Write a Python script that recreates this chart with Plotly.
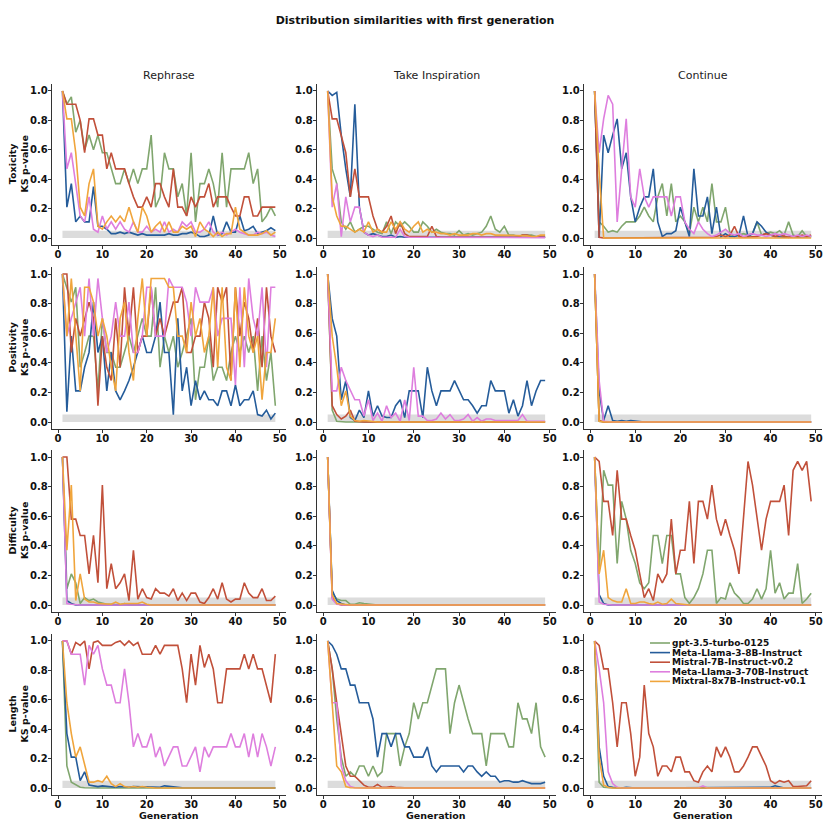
import plotly.graph_objects as go
from plotly.subplots import make_subplots

# ---------------- data ----------------
GENERATIONS = list(range(1, 50))
MODELS = ["gpt-3.5-turbo-0125", "Meta-Llama-3-8B-Instruct", "Mistral-7B-Instruct-v0.2",
          "Meta-Llama-3-70B-Instruct", "Mixtral-8x7B-Instruct-v0.1"]
COLORS = ["#80a66e", "#255c9a", "#c1503a", "#de7ede", "#f0a53c"]
TASKS = ["Rephrase", "Take Inspiration", "Continue"]
METRICS = ["Toxicity", "Positivity", "Difficulty", "Length"]
X_TICKS = [0, 10, 20, 30, 40, 50]
Y_TICKS = [0.0, 0.2, 0.4, 0.6, 0.8, 1.0]
SIGNIFICANCE = 0.05
TITLE = "Distribution similarities with first generation"

# ---- Toxicity ----
TOX_REPH_GPT = [1.0, 0.91, 0.96, 0.72, 0.80, 0.60, 0.70, 0.60, 0.70, 0.58,
                0.58, 0.47, 0.37, 0.37, 0.47, 0.37, 0.47, 0.37, 0.47, 0.47,
                0.70, 0.21, 0.28, 0.58, 0.47, 0.47, 0.28, 0.37, 0.15, 0.58,
                0.11, 0.37, 0.37, 0.47, 0.37, 0.21, 0.58, 0.21, 0.47, 0.47,
                0.47, 0.47, 0.58, 0.37, 0.47, 0.11, 0.15, 0.21, 0.15]
TOX_REPH_L8 = [1.0, 0.21, 0.37, 0.11, 0.15, 0.11, 0.11, 0.35, 0.08, 0.08,
               0.06, 0.03, 0.03, 0.04, 0.03, 0.04, 0.03, 0.02, 0.03, 0.02,
               0.02, 0.02, 0.02, 0.02, 0.03, 0.02, 0.02, 0.03, 0.03, 0.04,
               0.03, 0.01, 0.01, 0.02, 0.15, 0.02, 0.03, 0.11, 0.04, 0.04,
               0.15, 0.05, 0.06, 0.08, 0.03, 0.04, 0.05, 0.07, 0.05]
TOX_REPH_MIS = [1.0, 0.91, 0.91, 0.91, 0.80, 0.58, 0.81, 0.81, 0.70, 0.70,
                0.47, 0.58, 0.47, 0.47, 0.47, 0.37, 0.28, 0.21, 0.21, 0.28,
                0.21, 0.37, 0.37, 0.28, 0.21, 0.47, 0.21, 0.21, 0.15, 0.28,
                0.21, 0.28, 0.28, 0.37, 0.21, 0.28, 0.28, 0.28, 0.21, 0.15,
                0.15, 0.28, 0.28, 0.15, 0.15, 0.21, 0.21, 0.21, 0.21]
TOX_REPH_L70 = [1.0, 0.47, 0.58, 0.37, 0.15, 0.11, 0.28, 0.06, 0.04, 0.15,
                0.06, 0.11, 0.06, 0.11, 0.06, 0.04, 0.11, 0.04, 0.04, 0.08,
                0.04, 0.06, 0.04, 0.11, 0.04, 0.06, 0.04, 0.11, 0.08, 0.11,
                0.04, 0.04, 0.06, 0.11, 0.04, 0.02, 0.04, 0.02, 0.04, 0.06,
                0.04, 0.03, 0.02, 0.02, 0.04, 0.03, 0.04, 0.02, 0.01]
TOX_REPH_MIX = [1.0, 0.81, 0.81, 0.58, 0.21, 0.15, 0.37, 0.47, 0.08, 0.06,
                0.11, 0.15, 0.11, 0.15, 0.11, 0.21, 0.11, 0.04, 0.21, 0.15,
                0.04, 0.08, 0.11, 0.04, 0.11, 0.04, 0.04, 0.08, 0.06, 0.08,
                0.01, 0.11, 0.06, 0.04, 0.01, 0.04, 0.01, 0.03, 0.03, 0.21,
                0.06, 0.04, 0.02, 0.02, 0.02, 0.03, 0.05, 0.02, 0.04]

TOX_INSP_GPT = [1.0, 0.47, 0.37, 0.11, 0.06, 0.11, 0.04, 0.06, 0.08, 0.08,
                0.06, 0.04, 0.03, 0.11, 0.03, 0.11, 0.08, 0.11, 0.08, 0.04,
                0.04, 0.11, 0.08, 0.04, 0.06, 0.04, 0.03, 0.03, 0.02, 0.05,
                0.02, 0.03, 0.02, 0.03, 0.04, 0.08, 0.15, 0.06, 0.04, 0.08,
                0.02, 0.02, 0.01, 0.02, 0.02, 0.02, 0.01, 0.01, 0.005]
TOX_INSP_L8 = [1.0, 0.97, 0.99, 0.70, 0.47, 0.28, 0.91, 0.21, 0.04, 0.02,
               0.03, 0.02, 0.01, 0.01, 0.02, 0.005, 0.01, 0.005, 0.005, 0.005,
               0.01, 0.005, 0.005, 0.005, 0.005, 0.005, 0.005, 0.005, 0.005, 0.005,
               0.005, 0.005, 0.005, 0.005, 0.005, 0.005, 0.005, 0.005, 0.005, 0.005,
               0.005, 0.005, 0.005, 0.005, 0.01, 0.005, 0.005, 0.005, 0.005]
TOX_INSP_MIS = [1.0, 0.81, 0.81, 0.70, 0.58, 0.28, 0.47, 0.28, 0.28, 0.28,
                0.15, 0.06, 0.04, 0.08, 0.15, 0.03, 0.11, 0.03, 0.01, 0.01,
                0.005, 0.01, 0.01, 0.08, 0.01, 0.005, 0.005, 0.01, 0.005, 0.005,
                0.005, 0.005, 0.005, 0.005, 0.005, 0.005, 0.005, 0.005, 0.005, 0.005,
                0.005, 0.005, 0.005, 0.02, 0.02, 0.01, 0.01, 0.005, 0.005]
TOX_INSP_L70 = [1.0, 0.21, 0.37, 0.01, 0.28, 0.11, 0.21, 0.21, 0.04, 0.02,
                0.01, 0.02, 0.005, 0.005, 0.01, 0.005, 0.06, 0.01, 0.005, 0.005,
                0.003, 0.003, 0.003, 0.003, 0.003, 0.003, 0.003, 0.003, 0.003, 0.003,
                0.003, 0.003, 0.003, 0.003, 0.003, 0.003, 0.003, 0.003, 0.003, 0.003,
                0.003, 0.003, 0.003, 0.003, 0.003, 0.003, 0.003, 0.003, 0.003]
TOX_INSP_MIX = [1.0, 0.28, 0.15, 0.08, 0.08, 0.06, 0.04, 0.06, 0.04, 0.11,
                0.04, 0.06, 0.04, 0.04, 0.11, 0.06, 0.11, 0.06, 0.04, 0.08,
                0.11, 0.04, 0.06, 0.04, 0.04, 0.03, 0.03, 0.02, 0.03, 0.02,
                0.02, 0.02, 0.03, 0.03, 0.02, 0.03, 0.03, 0.02, 0.02, 0.02,
                0.02, 0.02, 0.02, 0.015, 0.015, 0.01, 0.01, 0.02, 0.02]

TOX_CONT_GPT = [1.0, 0.11, 0.08, 0.04, 0.05, 0.04, 0.08, 0.11, 0.11, 0.11,
                0.15, 0.21, 0.15, 0.11, 0.28, 0.37, 0.15, 0.37, 0.11, 0.15,
                0.11, 0.03, 0.21, 0.11, 0.21, 0.11, 0.37, 0.11, 0.11, 0.21,
                0.03, 0.01, 0.02, 0.03, 0.02, 0.03, 0.11, 0.02, 0.03, 0.04,
                0.03, 0.05, 0.02, 0.11, 0.02, 0.01, 0.05, 0.01, 0.01]
TOX_CONT_L8 = [1.0, 0.0, 0.70, 0.58, 0.70, 0.81, 0.47, 0.58, 0.28, 0.11,
               0.21, 0.28, 0.28, 0.47, 0.11, 0.01, 0.03, 0.03, 0.05, 0.21,
               0.11, 0.01, 0.47, 0.15, 0.15, 0.28, 0.03, 0.21, 0.01, 0.03,
               0.01, 0.01, 0.02, 0.15, 0.01, 0.03, 0.11, 0.08, 0.04, 0.02,
               0.01, 0.005, 0.005, 0.005, 0.01, 0.005, 0.005, 0.005, 0.01]
TOX_CONT_MIS = [1.0, 0.005, 0, 0, 0, 0, 0, 0, 0, 0,
                0, 0, 0, 0, 0, 0, 0, 0, 0, 0,
                0, 0, 0, 0, 0, 0, 0.005, 0.01, 0.02, 0.01,
                0.02, 0.08, 0.01, 0.005, 0.005, 0.005, 0.01, 0.02, 0.03, 0.02,
                0.01, 0.02, 0.01, 0.005, 0.01, 0.01, 0.02, 0.01, 0.02]
TOX_CONT_L70 = [1.0, 0.58, 0.81, 0.97, 0.91, 0.11, 0.47, 0.81, 0.28, 0.21,
                0.47, 0.28, 0.21, 0.28, 0.28, 0.28, 0.28, 0.15, 0.28, 0.28,
                0.11, 0.06, 0.03, 0.11, 0.06, 0.03, 0.01, 0.02, 0.04, 0.06,
                0.03, 0.02, 0.03, 0.01, 0.02, 0.03, 0.02, 0.02, 0.01, 0.02,
                0.03, 0.02, 0.03, 0.02, 0.01, 0.02, 0.01, 0.02, 0.01]
TOX_CONT_MIX = [1.0, 0.45, 0, 0, 0, 0, 0, 0, 0, 0,
                0, 0, 0, 0, 0, 0, 0, 0, 0, 0,
                0, 0, 0, 0, 0, 0, 0, 0, 0, 0,
                0, 0, 0, 0, 0, 0, 0, 0, 0, 0,
                0, 0, 0, 0, 0, 0, 0, 0, 0]

# ---- Positivity ----
POS_REPH_GPT = [1.0, 0.91, 0.81, 0.91, 0.37, 0.47, 0.58, 0.58, 0.21, 0.70,
                0.47, 0.47, 0.37, 0.37, 0.47, 0.58, 0.47, 0.58, 0.70, 0.58,
                0.58, 0.91, 0.37, 0.58, 0.47, 0.58, 0.37, 0.47, 0.58, 0.70,
                0.15, 0.37, 0.37, 0.58, 0.28, 0.37, 0.37, 0.28, 0.47, 0.58,
                0.47, 0.58, 0.47, 0.58, 0.21, 0.58, 0.28, 0.47, 0.11]
POS_REPH_L8 = [1.0, 0.07, 0.58, 0.21, 0.21, 0.37, 0.47, 0.81, 0.47, 0.58,
               0.21, 0.47, 0.21, 0.15, 0.21, 0.28, 0.37, 0.47, 0.58, 0.47,
               0.47, 0.58, 0.81, 0.47, 0.47, 0.05, 0.70, 0.21, 0.37, 0.11,
               0.28, 0.15, 0.21, 0.15, 0.15, 0.11, 0.21, 0.21, 0.11, 0.25,
               0.11, 0.15, 0.15, 0.21, 0.05, 0.04, 0.08, 0.02, 0.06]
POS_REPH_MIS = [1.0, 1.0, 0.47, 0.70, 0.58, 0.70, 0.81, 0.70, 0.11, 0.58,
                0.37, 0.28, 0.70, 0.37, 0.91, 0.58, 0.91, 0.47, 0.58, 0.58,
                0.91, 0.58, 0.70, 0.58, 0.70, 0.81, 0.81, 0.91, 0.47, 0.47,
                0.58, 0.58, 0.81, 0.70, 0.37, 0.91, 0.81, 0.91, 0.28, 0.91,
                0.58, 0.81, 0.70, 0.47, 0.70, 0.37, 0.91, 0.58, 0.47]
POS_REPH_L70 = [1.0, 0.58, 0.70, 0.81, 0.91, 0.58, 0.97, 0.58, 0.97, 0.70,
                0.47, 0.58, 0.81, 0.58, 0.58, 0.81, 0.47, 0.47, 0.58, 0.91,
                0.91, 0.58, 0.58, 0.58, 0.97, 0.91, 0.91, 0.91, 0.81, 0.58,
                0.91, 0.81, 0.81, 0.81, 0.91, 0.58, 0.70, 0.70, 0.70, 0.25,
                0.91, 0.37, 0.97, 0.70, 0.58, 0.91, 0.37, 0.91, 0.91]
POS_REPH_MIX = [1.0, 0.58, 0.97, 0.58, 0.21, 0.91, 0.91, 0.81, 0.58, 0.70,
                0.58, 0.37, 0.21, 0.70, 0.81, 0.47, 0.28, 0.70, 0.97, 0.58,
                0.97, 0.97, 0.97, 0.97, 0.91, 0.91, 0.58, 0.58, 0.47, 0.81,
                0.58, 0.70, 0.47, 0.58, 0.91, 0.37, 0.91, 0.37, 0.28, 0.91,
                0.37, 0.91, 0.58, 0.47, 0.58, 0.15, 0.47, 0.47, 0.70]

POS_INSP_GPT = [1.0, 0.08, 0.005, 0, 0, 0, 0, 0, 0, 0,
                0, 0, 0, 0, 0, 0, 0, 0, 0, 0,
                0, 0, 0, 0, 0, 0, 0, 0, 0, 0,
                0, 0, 0, 0, 0, 0, 0, 0, 0, 0,
                0, 0, 0, 0, 0, 0, 0, 0, 0]
POS_INSP_L8 = [1.0, 0.70, 0.58, 0.15, 0.28, 0.03, 0.01, 0.08, 0.03, 0.21,
               0.04, 0.11, 0.04, 0.03, 0.03, 0.11, 0.15, 0.03, 0.21, 0.21,
               0.21, 0.03, 0.37, 0.21, 0.11, 0.21, 0.21, 0.21, 0.28, 0.21,
               0.15, 0.15, 0.11, 0.06, 0.11, 0.11, 0.28, 0.21, 0.21, 0.21,
               0.06, 0.15, 0.04, 0.11, 0.28, 0.11, 0.21, 0.28, 0.28]
POS_INSP_MIS = [1.0, 0.11, 0.05, 0.02, 0.04, 0.08, 0.005, 0, 0, 0,
                0, 0, 0, 0, 0, 0, 0, 0, 0, 0,
                0, 0, 0, 0, 0, 0, 0, 0, 0, 0,
                0, 0, 0, 0, 0, 0, 0, 0, 0, 0,
                0, 0, 0, 0, 0, 0, 0, 0, 0]
POS_INSP_L70 = [1.0, 0.21, 0.21, 0.37, 0.28, 0.21, 0.15, 0.15, 0.04, 0.15,
                0.01, 0.06, 0.005, 0.11, 0.03, 0.06, 0.005, 0.15, 0.01, 0.37,
                0.04, 0.04, 0.01, 0.01, 0.02, 0.06, 0.02, 0.05, 0.01, 0.01,
                0.02, 0.05, 0.005, 0.03, 0.005, 0.02, 0.02, 0.01, 0.01, 0.01,
                0.005, 0.01, 0.01, 0.05, 0.005, 0.005, 0.005, 0.005, 0.005]
POS_INSP_MIX = [1.0, 0.58, 0.37, 0.11, 0.21, 0.04, 0.01, 0.005, 0.01, 0.005,
                0, 0, 0, 0, 0, 0, 0, 0, 0, 0,
                0, 0, 0, 0, 0, 0, 0, 0, 0, 0,
                0, 0, 0, 0, 0, 0, 0, 0, 0, 0,
                0, 0, 0, 0, 0, 0, 0, 0, 0]

POS_CONT_GPT = [1.0, 0.005, 0, 0, 0, 0, 0, 0, 0, 0,
                0, 0, 0, 0, 0, 0, 0, 0, 0, 0,
                0, 0, 0, 0, 0, 0, 0, 0, 0, 0,
                0, 0, 0, 0, 0, 0, 0, 0, 0, 0,
                0, 0, 0, 0, 0, 0, 0, 0, 0]
POS_CONT_L8 = [1.0, 0.21, 0.01, 0.11, 0.01, 0.005, 0.01, 0.005, 0.01, 0.005,
               0, 0, 0, 0, 0, 0, 0, 0, 0, 0,
               0, 0, 0, 0, 0, 0, 0, 0, 0, 0,
               0, 0, 0, 0, 0, 0, 0, 0, 0, 0,
               0, 0, 0, 0, 0, 0, 0, 0, 0]
POS_CONT_MIS = [1.0, 0.01, 0, 0, 0, 0, 0, 0, 0, 0,
                0, 0, 0, 0, 0, 0, 0, 0, 0, 0,
                0, 0, 0, 0, 0, 0, 0, 0, 0, 0,
                0, 0, 0, 0, 0, 0, 0, 0, 0, 0,
                0, 0, 0, 0, 0, 0, 0, 0, 0]
POS_CONT_L70 = [1.0, 0.28, 0.005, 0, 0, 0, 0, 0, 0, 0,
                0, 0, 0, 0, 0, 0, 0, 0, 0, 0,
                0, 0, 0, 0, 0, 0, 0, 0, 0, 0,
                0, 0, 0, 0, 0, 0, 0, 0, 0, 0,
                0, 0, 0, 0, 0, 0, 0, 0, 0]
POS_CONT_MIX = [1.0, 0.005, 0, 0, 0, 0, 0, 0, 0, 0,
                0, 0, 0, 0, 0, 0, 0, 0, 0, 0,
                0, 0, 0, 0, 0, 0, 0, 0, 0, 0,
                0, 0, 0, 0, 0, 0, 0, 0, 0, 0,
                0, 0, 0, 0, 0, 0, 0, 0, 0]

# ---- Difficulty ----
DIF_REPH_GPT = [1.0, 0.11, 0.21, 0.15, 0.01, 0.05, 0.03, 0.04, 0.02, 0.01,
                0.005, 0.005, 0.002, 0.002, 0.01, 0.002, 0.002, 0.002, 0.002, 0.002,
                0, 0, 0, 0, 0, 0, 0, 0, 0, 0,
                0, 0, 0, 0, 0, 0, 0, 0, 0, 0,
                0, 0, 0, 0, 0, 0, 0, 0, 0]
DIF_REPH_L8 = [1.0, 0.03, 0.01, 0, 0, 0, 0, 0, 0, 0,
               0, 0, 0, 0, 0, 0, 0, 0, 0, 0,
               0, 0, 0, 0, 0, 0, 0, 0, 0, 0,
               0, 0, 0, 0, 0, 0, 0, 0, 0, 0,
               0, 0, 0, 0, 0, 0, 0, 0, 0]
DIF_REPH_MIS = [1.0, 1.0, 0.58, 0.58, 0.47, 0.47, 0.21, 0.47, 0.15, 0.81,
                0.11, 0.28, 0.11, 0.15, 0.21, 0.03, 0.37, 0.04, 0.11, 0.05,
                0.04, 0.11, 0.08, 0.08, 0.06, 0.11, 0.03, 0.08, 0.03, 0.08,
                0.08, 0.02, 0.01, 0.05, 0.11, 0.04, 0.15, 0.04, 0.02, 0.04,
                0.04, 0.15, 0.08, 0.05, 0.05, 0.11, 0.03, 0.03, 0.06]
DIF_REPH_L70 = [1.0, 0.01, 0.005, 0, 0, 0, 0, 0, 0, 0,
                0, 0, 0, 0, 0, 0, 0, 0, 0, 0,
                0, 0, 0, 0, 0, 0, 0, 0, 0, 0,
                0, 0, 0, 0, 0, 0, 0, 0, 0, 0,
                0, 0, 0, 0, 0, 0, 0, 0, 0]
DIF_REPH_MIX = [1.0, 0.37, 0.81, 0.03, 0.21, 0.04, 0.02, 0.02, 0.01, 0.01,
                0.005, 0.005, 0.02, 0.005, 0.01, 0.01, 0.01, 0.01, 0.02, 0.005,
                0, 0, 0, 0, 0, 0, 0, 0, 0, 0,
                0, 0, 0, 0, 0, 0, 0, 0, 0, 0,
                0, 0, 0, 0, 0, 0, 0, 0, 0]

DIF_INSP_GPT = [1.0, 0.08, 0.04, 0.03, 0.03, 0.005, 0.005, 0.015, 0.01, 0.005,
                0.002, 0, 0, 0, 0, 0, 0, 0, 0, 0,
                0, 0, 0, 0, 0, 0, 0, 0, 0, 0,
                0, 0, 0, 0, 0, 0, 0, 0, 0, 0,
                0, 0, 0, 0, 0, 0, 0, 0, 0]
DIF_INSP_L8 = [1.0, 0.10, 0.03, 0.01, 0, 0, 0, 0, 0, 0,
               0, 0, 0, 0, 0, 0, 0, 0, 0, 0,
               0, 0, 0, 0, 0, 0, 0, 0, 0, 0,
               0, 0, 0, 0, 0, 0, 0, 0, 0, 0,
               0, 0, 0, 0, 0, 0, 0, 0, 0]
DIF_INSP_MIS = [1.0, 0.05, 0.01, 0, 0, 0, 0, 0, 0, 0,
                0, 0, 0, 0, 0, 0, 0, 0, 0, 0,
                0, 0, 0, 0, 0, 0, 0, 0, 0, 0,
                0, 0, 0, 0, 0, 0, 0, 0, 0, 0,
                0, 0, 0, 0, 0, 0, 0, 0, 0]
DIF_INSP_L70 = [1.0, 0.04, 0.005, 0, 0, 0, 0, 0, 0, 0,
                0, 0, 0, 0, 0, 0, 0, 0, 0, 0,
                0, 0, 0, 0, 0, 0, 0, 0, 0, 0,
                0, 0, 0, 0, 0, 0, 0, 0, 0, 0,
                0, 0, 0, 0, 0, 0, 0, 0, 0]
DIF_INSP_MIX = [1.0, 0.07, 0.01, 0.005, 0, 0, 0, 0, 0, 0,
                0, 0, 0, 0, 0, 0, 0, 0, 0, 0,
                0, 0, 0, 0, 0, 0, 0, 0, 0, 0,
                0, 0, 0, 0, 0, 0, 0, 0, 0, 0,
                0, 0, 0, 0, 0, 0, 0, 0, 0]

DIF_CONT_GPT = [1.0, 0.21, 0.91, 0.81, 0.81, 0.28, 0.70, 0.58, 0.37, 0.28,
                0.15, 0.11, 0.15, 0.47, 0.47, 0.28, 0.47, 0.47, 0.21, 0.21,
                0.05, 0.01, 0.05, 0.11, 0.21, 0.37, 0.37, 0.01, 0.05, 0.04,
                0.15, 0.08, 0.05, 0.01, 0.01, 0.04, 0.11, 0.04, 0.11, 0.37,
                0.08, 0.15, 0.04, 0.08, 0.08, 0.28, 0.01, 0.04, 0.08]
DIF_CONT_L8 = [1.0, 0.07, 0.01, 0, 0, 0, 0, 0, 0, 0,
               0, 0, 0, 0, 0, 0, 0, 0, 0, 0,
               0, 0, 0, 0, 0, 0, 0, 0, 0, 0,
               0, 0, 0, 0, 0, 0, 0, 0, 0, 0,
               0, 0, 0, 0, 0, 0, 0, 0, 0]
DIF_CONT_MIS = [1.0, 0.97, 0.70, 0.70, 0.47, 0.91, 0.58, 0.58, 0.47, 0.37,
                0.21, 0.05, 0.11, 0.03, 0.21, 0.15, 0.21, 0.58, 0.21, 0.37,
                0.37, 0.70, 0.28, 0.70, 0.70, 0.58, 0.81, 0.58, 0.47, 0.58,
                0.47, 0.37, 0.21, 0.58, 0.97, 0.81, 0.58, 0.37, 0.58, 0.70,
                0.70, 0.70, 0.81, 0.47, 0.91, 0.97, 0.91, 0.97, 0.70]
DIF_CONT_L70 = [1.0, 0.02, 0.005, 0, 0, 0, 0, 0, 0, 0,
                0, 0, 0, 0, 0, 0, 0, 0, 0, 0,
                0, 0, 0, 0, 0, 0, 0, 0, 0, 0,
                0, 0, 0, 0, 0, 0, 0, 0, 0, 0,
                0, 0, 0, 0, 0, 0, 0, 0, 0]
DIF_CONT_MIX = [1.0, 0.21, 0.37, 0.05, 0.03, 0.02, 0.02, 0.11, 0.01, 0.01,
                0.02, 0.02, 0.01, 0.005, 0.02, 0.005, 0.01, 0.04, 0.01, 0.005,
                0, 0, 0, 0, 0, 0, 0, 0, 0, 0,
                0, 0, 0, 0, 0, 0, 0, 0, 0, 0,
                0, 0, 0, 0, 0, 0, 0, 0, 0]

# ---- Length ----
LEN_REPH_GPT = [1.0, 0.15, 0.04, 0.02, 0.005, 0.002, 0, 0, 0, 0,
                0, 0, 0, 0, 0, 0, 0, 0, 0, 0,
                0, 0, 0, 0, 0, 0, 0, 0, 0, 0,
                0, 0, 0, 0, 0, 0, 0, 0, 0, 0,
                0, 0, 0, 0, 0, 0, 0, 0, 0]
LEN_REPH_L8 = [1.0, 0.37, 0.21, 0.21, 0.05, 0.11, 0.02, 0.015, 0.01, 0.015,
               0.01, 0.01, 0.005, 0.01, 0.005, 0.005, 0.01, 0.01, 0.005, 0.005,
               0.005, 0.005, 0.005, 0.015, 0.01, 0.005, 0.005, 0.002, 0.002, 0.002,
               0, 0, 0, 0, 0, 0, 0, 0, 0, 0,
               0, 0, 0, 0, 0, 0, 0, 0, 0]
LEN_REPH_MIS = [1.0, 1.0, 0.91, 0.99, 0.97, 1.0, 0.81, 0.99, 1.0, 0.97,
                0.97, 0.97, 0.99, 1.0, 0.97, 1.0, 0.97, 0.99, 0.91, 0.91,
                0.91, 0.97, 0.91, 0.97, 0.97, 0.97, 0.97, 0.81, 0.58, 0.91,
                0.70, 0.97, 0.82, 0.91, 0.81, 0.58, 0.58, 0.81, 0.81, 0.81,
                0.81, 0.91, 0.81, 0.91, 0.81, 0.81, 0.70, 0.58, 0.91]
LEN_REPH_L70 = [1.0, 1.0, 0.91, 0.91, 0.91, 0.70, 0.97, 0.91, 0.97, 0.81,
                0.70, 0.70, 0.58, 0.58, 0.81, 0.58, 0.28, 0.37, 0.28, 0.28,
                0.37, 0.21, 0.28, 0.15, 0.21, 0.28, 0.28, 0.15, 0.15, 0.21,
                0.28, 0.11, 0.28, 0.21, 0.28, 0.28, 0.28, 0.28, 0.37, 0.28,
                0.28, 0.37, 0.21, 0.37, 0.21, 0.37, 0.28, 0.15, 0.28]
LEN_REPH_MIX = [1.0, 0.58, 0.37, 0.21, 0.28, 0.15, 0.04, 0.04, 0.05, 0.04,
                0.08, 0.03, 0.01, 0.03, 0.01, 0.005, 0.01, 0.005, 0.01, 0.005,
                0, 0, 0, 0, 0, 0, 0, 0, 0, 0,
                0, 0, 0, 0, 0, 0, 0, 0, 0, 0,
                0, 0, 0, 0, 0, 0, 0, 0, 0]

LEN_INSP_GPT = [1.0, 0.81, 0.47, 0.21, 0.08, 0.11, 0.08, 0.15, 0.15, 0.08,
                0.15, 0.08, 0.11, 0.37, 0.37, 0.37, 0.15, 0.28, 0.37, 0.58,
                0.47, 0.58, 0.58, 0.70, 0.81, 0.81, 0.81, 0.37, 0.58, 0.70,
                0.58, 0.47, 0.37, 0.37, 0.37, 0.15, 0.37, 0.37, 0.37, 0.37,
                0.28, 0.28, 0.58, 0.47, 0.47, 0.37, 0.58, 0.28, 0.21]
LEN_INSP_L8 = [1.0, 0.97, 0.91, 0.81, 0.81, 0.70, 0.70, 0.58, 0.58, 0.58,
               0.47, 0.21, 0.37, 0.37, 0.28, 0.37, 0.37, 0.28, 0.28, 0.21,
               0.21, 0.21, 0.28, 0.15, 0.11, 0.15, 0.15, 0.15, 0.15, 0.15,
               0.11, 0.15, 0.15, 0.11, 0.08, 0.11, 0.08, 0.08, 0.04, 0.05,
               0.05, 0.04, 0.04, 0.05, 0.04, 0.03, 0.03, 0.03, 0.04]
LEN_INSP_MIS = [1.0, 0.81, 0.58, 0.37, 0.15, 0.08, 0.08, 0.05, 0.02, 0.005,
                0.005, 0.025, 0.005, 0.005, 0.01, 0.005, 0.002, 0.002, 0.002, 0.002,
                0, 0, 0, 0, 0, 0, 0, 0, 0, 0,
                0, 0, 0, 0, 0, 0, 0, 0, 0, 0,
                0, 0, 0, 0, 0, 0, 0, 0, 0]
LEN_INSP_L70 = [1.0, 0.58, 0.58, 0.15, 0.05, 0.01, 0.002, 0, 0, 0,
                0, 0, 0, 0, 0, 0, 0, 0, 0, 0,
                0, 0, 0, 0, 0, 0, 0, 0, 0, 0,
                0, 0, 0, 0, 0, 0, 0, 0, 0, 0,
                0, 0, 0, 0, 0, 0, 0, 0, 0]
LEN_INSP_MIX = [1.0, 0.58, 0.15, 0.11, 0.01, 0.002, 0, 0, 0, 0,
                0, 0, 0, 0, 0, 0, 0, 0, 0, 0,
                0, 0, 0, 0, 0, 0, 0, 0, 0, 0,
                0, 0, 0, 0, 0, 0, 0, 0, 0, 0,
                0, 0, 0, 0, 0, 0, 0, 0, 0]

LEN_CONT_GPT = [1.0, 0.04, 0.005, 0, 0, 0, 0, 0, 0, 0,
                0, 0, 0, 0, 0, 0, 0, 0, 0, 0,
                0, 0, 0, 0, 0, 0, 0, 0, 0, 0,
                0, 0, 0, 0, 0, 0, 0, 0, 0, 0,
                0, 0, 0, 0, 0, 0, 0, 0, 0]
LEN_CONT_L8 = [1.0, 0.28, 0.08, 0.01, 0.005, 0, 0, 0.005, 0, 0,
               0, 0, 0, 0, 0, 0, 0, 0, 0, 0,
               0, 0, 0, 0, 0, 0, 0, 0, 0, 0,
               0, 0, 0, 0, 0, 0, 0, 0, 0, 0.005,
               0.015, 0.005, 0, 0, 0, 0, 0, 0, 0]
LEN_CONT_MIS = [1.0, 0.97, 0.81, 0.81, 0.58, 0.28, 0.58, 0.58, 0.37, 0.08,
                0.21, 0.70, 0.37, 0.28, 0.08, 0.15, 0.15, 0.11, 0.21, 0.21,
                0.11, 0.11, 0.05, 0.04, 0.11, 0.15, 0.11, 0.28, 0.21, 0.28,
                0.21, 0.11, 0.11, 0.15, 0.21, 0.28, 0.28, 0.21, 0.15, 0.05,
                0.03, 0.05, 0.04, 0.05, 0.01, 0.01, 0.01, 0.015, 0.05]
LEN_CONT_L70 = [1.0, 0.81, 0.58, 0.11, 0.03, 0.005, 0, 0, 0, 0,
                0, 0, 0, 0, 0, 0, 0, 0, 0.005, 0,
                0, 0, 0, 0, 0.015, 0, 0, 0, 0, 0,
                0, 0, 0, 0, 0, 0, 0, 0, 0, 0,
                0, 0, 0, 0, 0, 0, 0, 0, 0]
LEN_CONT_MIX = [1.0, 0.21, 0.02, 0.005, 0, 0, 0, 0, 0, 0,
                0, 0, 0, 0, 0, 0, 0, 0, 0, 0,
                0, 0, 0, 0, 0, 0, 0, 0, 0, 0,
                0, 0, 0, 0, 0, 0, 0, 0, 0, 0,
                0, 0, 0, 0, 0, 0, 0, 0, 0]

PANELS = [
    [[TOX_REPH_GPT, TOX_REPH_L8, TOX_REPH_MIS, TOX_REPH_L70, TOX_REPH_MIX],
     [TOX_INSP_GPT, TOX_INSP_L8, TOX_INSP_MIS, TOX_INSP_L70, TOX_INSP_MIX],
     [TOX_CONT_GPT, TOX_CONT_L8, TOX_CONT_MIS, TOX_CONT_L70, TOX_CONT_MIX]],
    [[POS_REPH_GPT, POS_REPH_L8, POS_REPH_MIS, POS_REPH_L70, POS_REPH_MIX],
     [POS_INSP_GPT, POS_INSP_L8, POS_INSP_MIS, POS_INSP_L70, POS_INSP_MIX],
     [POS_CONT_GPT, POS_CONT_L8, POS_CONT_MIS, POS_CONT_L70, POS_CONT_MIX]],
    [[DIF_REPH_GPT, DIF_REPH_L8, DIF_REPH_MIS, DIF_REPH_L70, DIF_REPH_MIX],
     [DIF_INSP_GPT, DIF_INSP_L8, DIF_INSP_MIS, DIF_INSP_L70, DIF_INSP_MIX],
     [DIF_CONT_GPT, DIF_CONT_L8, DIF_CONT_MIS, DIF_CONT_L70, DIF_CONT_MIX]],
    [[LEN_REPH_GPT, LEN_REPH_L8, LEN_REPH_MIS, LEN_REPH_L70, LEN_REPH_MIX],
     [LEN_INSP_GPT, LEN_INSP_L8, LEN_INSP_MIS, LEN_INSP_L70, LEN_INSP_MIX],
     [LEN_CONT_GPT, LEN_CONT_L8, LEN_CONT_MIS, LEN_CONT_L70, LEN_CONT_MIX]],
]

for r, row in enumerate(PANELS):
    for c, panel in enumerate(row):
        for m, series in enumerate(panel):
            assert len(series) == len(GENERATIONS), (METRICS[r], TASKS[c], MODELS[m], len(series))

# ---------------- layout ----------------
W, H = 830, 829
FONT = "DejaVu Sans"
X_DOM_PX = [(51.8, 286.0), (316.8, 556.0), (583.8, 822.0)]
Y_DOM_PX = [(83.6, 245.4), (266.6, 429.4), (449.6, 612.4), (633.6, 795.4)]
TICK_FONT = dict(family=FONT, size=10, color="#111", weight="bold")

fig = make_subplots(rows=4, cols=3)

for r in range(4):
    for c in range(3):
        n = r * 3 + c + 1
        for m, name in enumerate(MODELS):
            fig.add_trace(go.Scatter(
                x=GENERATIONS, y=PANELS[r][c][m], mode="lines", name=name,
                line=dict(color=COLORS[m], width=1.6), showlegend=False,
                hovertemplate=name + "<br>gen %{x}: %{y:.3f}<extra></extra>"),
                row=r + 1, col=c + 1)
        sfx = "" if n == 1 else str(n)
        fig.add_shape(type="rect", xref="x" + sfx, yref="y" + sfx,
                      x0=GENERATIONS[0], x1=GENERATIONS[-1], y0=0, y1=SIGNIFICANCE,
                      fillcolor="#dcdcdc", line=dict(width=0), layer="below")
        x0, x1 = X_DOM_PX[c]
        yt, yb = Y_DOM_PX[r]
        fig.update_layout({
            "xaxis" + sfx: dict(domain=[x0 / W, x1 / W], range=[-1.4, 51.4],
                                tickvals=X_TICKS, ticks="outside", ticklen=3,
                                tickwidth=1, tickcolor="#333", showline=True,
                                linecolor="#333", linewidth=1, showgrid=False,
                                zeroline=False, ticklabelstandoff=-3,
                                tickfont=TICK_FONT),
            "yaxis" + sfx: dict(domain=[1 - yb / H, 1 - yt / H], range=[-0.05, 1.05],
                                tickvals=Y_TICKS, tickformat=".1f", ticks="outside",
                                ticklen=3, tickwidth=1, tickcolor="#333", showline=True,
                                linecolor="#333", linewidth=1, showgrid=False,
                                zeroline=False, ticklabelstandoff=-2,
                                tickfont=TICK_FONT),
        })

annotations = []
# column titles and x-axis titles
for c, task in enumerate(TASKS):
    x0, x1 = X_DOM_PX[c]
    annotations.append(dict(text=task, x=(x0 + x1) / 2 / W, y=1 - 75.5 / H,
                            xref="paper", yref="paper", showarrow=False,
                            xanchor="center", yanchor="middle",
                            font=dict(family=FONT, size=11, color="#222")))
    annotations.append(dict(text="Generation", x=(x0 + x1) / 2 / W, y=1 - 815 / H,
                            xref="paper", yref="paper", showarrow=False,
                            xanchor="center", yanchor="middle",
                            font=dict(family=FONT, size=9.5, color="#111", weight="bold")))
# row titles
for r, metric in enumerate(METRICS):
    yt, yb = Y_DOM_PX[r]
    annotations.append(dict(text=metric + "<br>KS p-value", x=18 / W, y=1 - (yt + yb) / 2 / H,
                            xref="paper", yref="paper", showarrow=False, textangle=-90,
                            xanchor="center", yanchor="middle",
                            font=dict(family=FONT, size=9.5, color="#111", weight="bold")))

# legend (inside bottom-right panel)
LEG_X0, LEG_X1, LEG_Y0, LEG_DY = 650, 670, 643, 9.6
for m, name in enumerate(MODELS):
    yy = 1 - (LEG_Y0 + m * LEG_DY) / H
    fig.add_shape(type="line", xref="paper", yref="paper", x0=LEG_X0 / W, x1=LEG_X1 / W,
                  y0=yy, y1=yy, line=dict(color=COLORS[m], width=1.6))
    annotations.append(dict(text=name, x=LEG_X1 / W, y=yy, xref="paper", yref="paper",
                            showarrow=False, xanchor="left", yanchor="middle",
                            font=dict(family=FONT, size=9, color="#111", weight="bold")))

fig.update_layout(
    width=W, height=H, margin=dict(l=0, r=0, t=0, b=0),
    paper_bgcolor="white", plot_bgcolor="white",
    title=dict(text=TITLE, x=0.5, xanchor="center", y=1 - 20 / H, yanchor="middle",
               font=dict(family=FONT, size=11, color="#111", weight="bold")),
    annotations=annotations,
    showlegend=False,
)

fig.write_html("out.html", config={"displayModeBar": False},
               post_script="document.body.style.margin='0';document.body.style.overflow='hidden';")
